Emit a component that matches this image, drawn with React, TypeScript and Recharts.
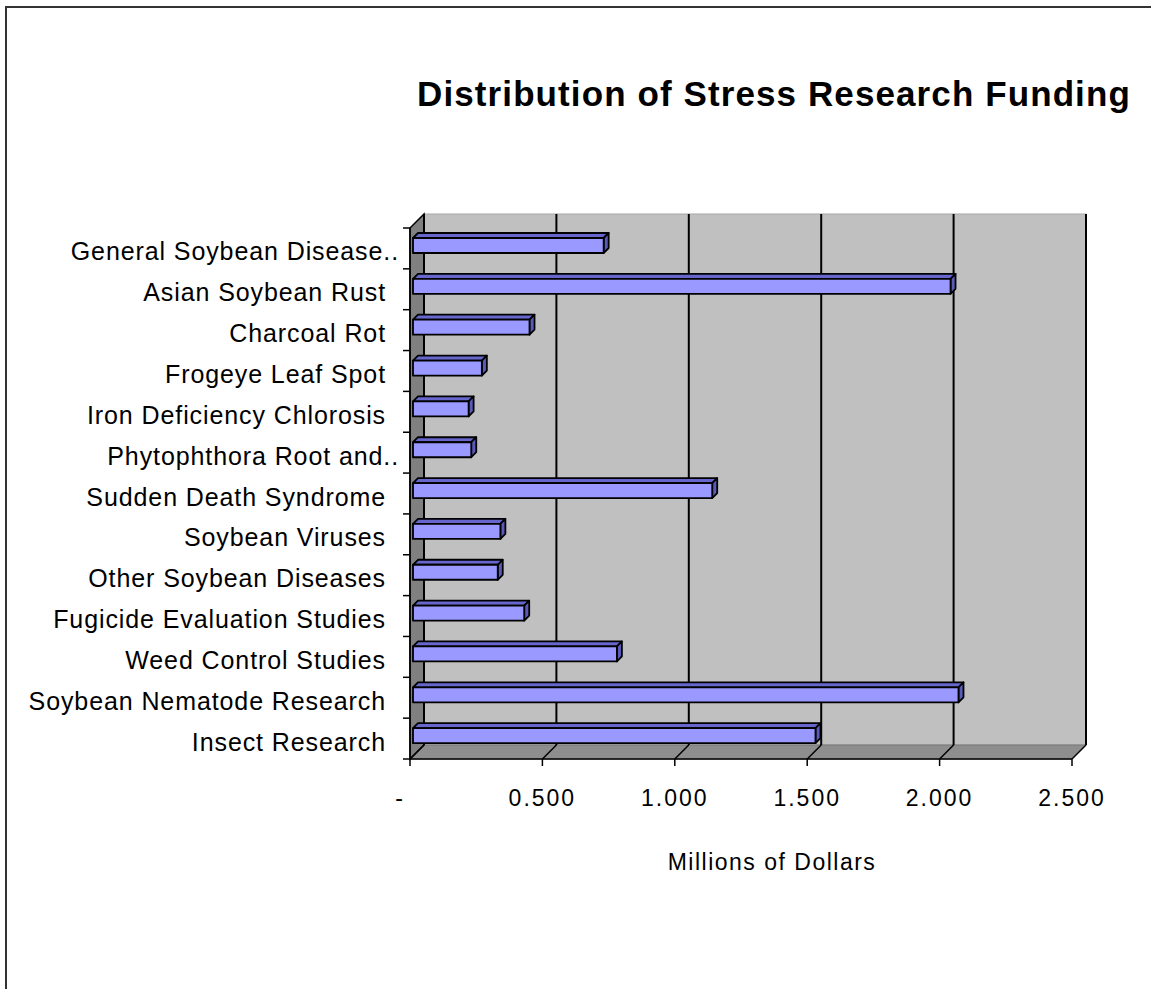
import { Bar, BarChart, CartesianGrid, ReferenceArea, XAxis, YAxis } from "recharts";

const categories = [
  "General Soybean Disease..",
  "Asian Soybean Rust",
  "Charcoal Rot",
  "Frogeye Leaf Spot",
  "Iron Deficiency Chlorosis",
  "Phytophthora Root and..",
  "Sudden Death Syndrome",
  "Soybean Viruses",
  "Other Soybean Diseases",
  "Fugicide Evaluation Studies",
  "Weed Control Studies",
  "Soybean Nematode Research",
  "Insect Research",
];

// millions of dollars
const funding = [0.72, 2.03, 0.44, 0.26, 0.21, 0.22, 1.13, 0.33, 0.32, 0.42, 0.77, 2.06, 1.52];

const xTicks = [0, 0.5, 1, 1.5, 2, 2.5];

const data = categories.map((name, i) => ({ name, funding: funding[i] }));

const FONT = '"Liberation Sans", Arial, sans-serif';
const DEPTH = 14; // 3d wall offset

// back wall, left side wall and floor of the excel-style 3d plot
function Frame(props: any) {
  const { x, y, width, height } = props;
  const d = DEPTH;
  const b = y + height;
  return (
    <g>
      <rect x={x + d} y={y - d} width={width} height={height} fill="#C0C0C0" stroke="#A8A8A8" strokeWidth={1} />
      <polygon
        points={`${x},${b} ${x + d},${b - d} ${x + width + d},${b - d} ${x + width},${b}`}
        fill="#8E8E8E"
        stroke="#777"
        strokeWidth={1}
      />
      <polygon
        points={`${x},${y} ${x + d},${y - d} ${x + d},${b - d} ${x},${b}`}
        fill="#808080"
        stroke="#000"
        strokeWidth={1.5}
      />
    </g>
  );
}

const gridLine = (p: any) => {
  const { x1, y1, y2 } = p;
  const d = DEPTH;
  return (
    <g key={`grid-${x1}`}>
      <line x1={x1 + d} y1={y1 - d} x2={x1 + d} y2={y2 - d} stroke="#000" strokeWidth={2} />
      <line x1={x1 + d} y1={y2 - d} x2={x1} y2={y2} stroke="#000" strokeWidth={1.5} />
    </g>
  );
};

function Bar3D(props: any) {
  const { x, y, width, height } = props;
  if (!width) return null;
  const fx = x + 3;
  const fy = y - 3;
  const k = 5;
  return (
    <g stroke="#000" strokeWidth={1.8} strokeLinejoin="round">
      <polygon
        points={`${fx},${fy} ${fx + k},${fy - k} ${fx + width + k},${fy - k} ${fx + width},${fy}`}
        fill="#6666CC"
      />
      <polygon
        points={`${fx + width},${fy} ${fx + width + k},${fy - k} ${fx + width + k},${fy + height - k} ${fx + width},${fy + height}`}
        fill="#5A5AB8"
      />
      <rect x={fx} y={fy} width={width} height={height} fill="#9999FF" />
    </g>
  );
}

function CategoryTick(props: any) {
  const { x, y, payload, index } = props;
  const half = payload?.offset || 20.4;
  const label = String(payload.value);
  const truncated = label.endsWith("..");
  return (
    <g>
      <line x1={x - 7} y1={y - half} x2={x} y2={y - half} stroke="#000" strokeWidth={1.5} />
      {index === categories.length - 1 && (
        <line x1={x - 7} y1={y + half} x2={x} y2={y + half} stroke="#000" strokeWidth={1.5} />
      )}
      <text
        x={x - (truncated ? 11 : 24)}
        y={y + 12}
        textAnchor="end"
        fontSize={25}
        letterSpacing={0.9}
        fill="#000"
        fontFamily={FONT}
      >
        {label}
      </text>
    </g>
  );
}

function ValueTick(props: any) {
  const { x, y, payload } = props;
  const v = Number(payload.value);
  const label = v === 0 ? "-" : v.toFixed(3);
  return (
    <text
      x={v === 0 ? x - 10 : x}
      y={y + 40}
      textAnchor="middle"
      fontSize={23}
      letterSpacing={2}
      fill="#000"
      fontFamily={FONT}
    >
      {label}
    </text>
  );
}

export default function App() {
  return (
    <div
      style={{
        position: "absolute",
        left: 0,
        top: 0,
        width: 1151,
        height: 989,
        background: "#fff",
        fontFamily: FONT,
      }}
    >
      <BarChart
        width={1151}
        height={989}
        data={data}
        layout="vertical"
        margin={{ top: 228, right: 79, bottom: 170, left: 10 }}
        accessibilityLayer={false}
      >
        <ReferenceArea x1={0} x2={2.5} shape={<Frame />} ifOverflow="visible" zIndex={-200} />
        <CartesianGrid horizontal={false} vertical={gridLine} zIndex={-100} />
        <XAxis
          type="number"
          domain={[0, 2.5]}
          ticks={xTicks}
          interval={0}
          height={60}
          tickSize={7}
          tickMargin={0}
          axisLine={{ stroke: "#000", strokeWidth: 1.5 }}
          tickLine={{ stroke: "#000", strokeWidth: 1.5 }}
          tick={<ValueTick />}
        />
        <YAxis
          type="category"
          dataKey="name"
          width={400}
          interval={0}
          tickSize={0}
          tickMargin={0}
          axisLine={{ stroke: "#000", strokeWidth: 1.5 }}
          tickLine={false}
          tick={<CategoryTick />}
        />
        <Bar dataKey="funding" barSize={15} shape={<Bar3D />} isAnimationActive={false} />
      </BarChart>
      <svg
        width={1151}
        height={989}
        style={{ position: "absolute", left: 0, top: 0, pointerEvents: "none" }}
      >
        {/* slide frame: only the top and left edges fall inside the picture */}
        <path d="M 6 989 L 6 7 L 1151 7" fill="none" stroke="#333" strokeWidth={2} />
        <text
          x={774}
          y={106}
          textAnchor="middle"
          fontSize={35}
          fontWeight="bold"
          letterSpacing={1.1}
          fontFamily={FONT}
          fill="#000"
        >
          Distribution of Stress Research Funding
        </text>
        <text
          x={772}
          y={870}
          textAnchor="middle"
          fontSize={23}
          letterSpacing={1.5}
          fontFamily={FONT}
          fill="#000"
        >
          Millions of Dollars
        </text>
      </svg>
    </div>
  );
}
